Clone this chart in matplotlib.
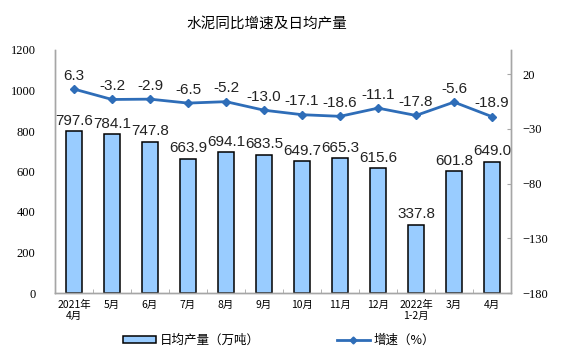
import numpy as np
import matplotlib.pyplot as plt
from matplotlib.lines import Line2D
from matplotlib.patches import Patch

plt.rcParams['font.family'] = ['Noto Sans CJK SC', 'DejaVu Sans']

months = ['2021年\n4月', '5月', '6月', '7月', '8月', '9月', '10月', '11月', '12月',
          '2022年\n1-2月', '3月', '4月']
output = [797.6, 784.1, 747.8, 663.9, 694.1, 683.5, 649.7, 665.3, 615.6, 337.8, 601.8, 649.0]
growth = [6.3, -3.2, -2.9, -6.5, -5.2, -13.0, -17.1, -18.6, -11.1, -17.8, -5.6, -18.9]

bar_color = '#99CCFF'
line_color = '#2E6DB8'
axis_gray = '#A6A6A6'
serif = 'Liberation Serif'
sans = 'Liberation Sans'

fig = plt.figure(figsize=(5.75, 3.57), dpi=100)
ax = fig.add_axes([55 / 575, 1 - 293 / 357, (511 - 55) / 575, (293 - 50) / 357])
ax2 = ax.twinx()

x = np.arange(len(months))
ax.bar(x, output, width=0.42, color=bar_color, edgecolor='black', linewidth=1.1, zorder=2)
for xi, v in zip(x, output):
    ax.text(xi, v + 16, f'{v:.1f}', ha='center', va='bottom', fontsize=11,
            family=sans, color='#222222')

ax.set_xlim(-0.5, len(months) - 0.5)
ax.set_ylim(0, 1185)
ax.set_yticks(range(0, 1201, 200))
ax.set_xticks(x)
ax.set_xticklabels(months, fontsize=7.5, linespacing=1.1)
ax.set_xticks(np.arange(-0.5, len(months), 1), minor=True)
ax.tick_params(axis='x', which='major', length=0, pad=5)
ax.tick_params(axis='x', which='minor', length=3, color=axis_gray, direction='in')
ax.tick_params(axis='y', length=0, pad=14)
for lab in ax.get_yticklabels():
    lab.set_family(serif)
    lab.set_fontsize(9)

ax2.plot(x, growth, color=line_color, linewidth=2, marker='D', markersize=4, zorder=3)
for xi, v in zip(x, growth):
    ax2.text(xi, v + 6, f'{v:.1f}', ha='center', va='bottom', fontsize=11,
             family=sans, color='#222222')
ax2.set_ylim(-180, 42)
ax2.set_yticks(range(-180, 21, 50))
ax2.tick_params(axis='y', length=3, direction='in', color=axis_gray, pad=8)
for lab in ax2.get_yticklabels():
    lab.set_family(serif)
    lab.set_fontsize(9)

for a in (ax, ax2):
    a.spines['top'].set_visible(False)
    for s in ('left', 'right', 'bottom'):
        a.spines[s].set_color(axis_gray)
        a.spines[s].set_linewidth(1)

fig.text(267 / 575, 1 - 24 / 357, '水泥同比增速及日均产量', ha='center', va='center', fontsize=10.5)

handles = [Patch(facecolor=bar_color, edgecolor='black', linewidth=1.1),
           Line2D([0], [0], color=line_color, linewidth=2, marker='D', markersize=3.5)]
fig.legend(handles, ['日均产量（万吨）', '增速（%）'], loc='center', ncol=2,
           bbox_to_anchor=(279 / 575, 1 - 340 / 357), frameon=False, fontsize=9,
           handlelength=2.6, handleheight=0.5, columnspacing=6.2, handletextpad=0.3)

fig.savefig('out.png', dpi=100)
